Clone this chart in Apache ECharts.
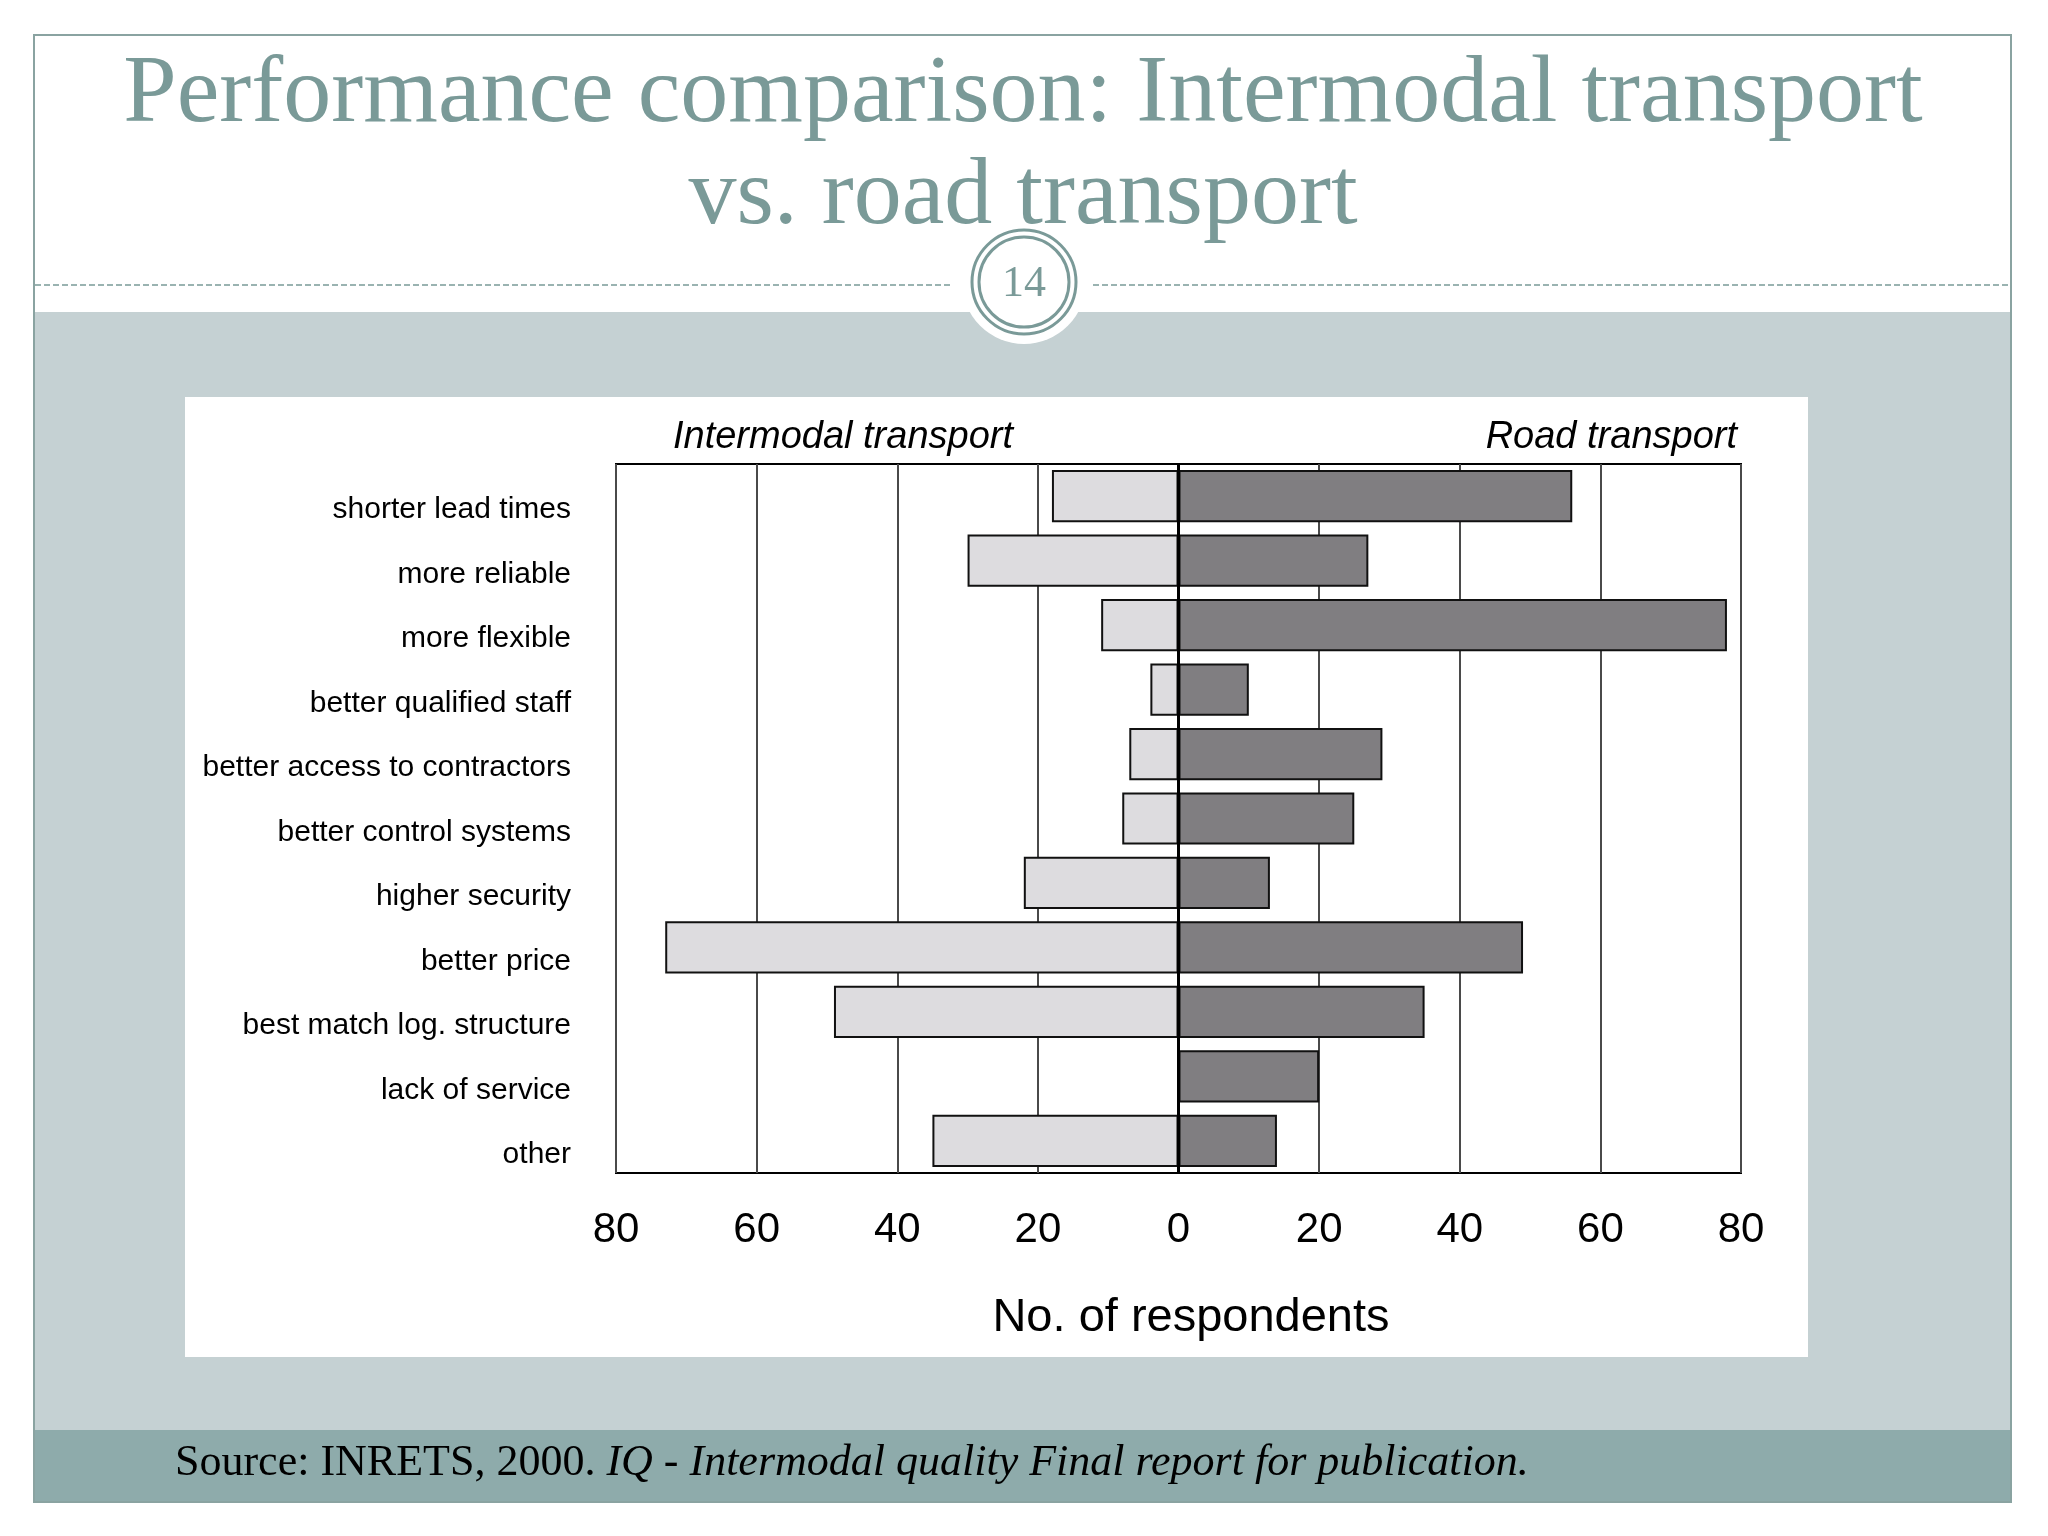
<!DOCTYPE html>
<html>
<head>
<meta charset="utf-8">
<script src="https://cdn.jsdelivr.net/npm/echarts@6/dist/echarts.min.js"></script>
<style>
html,body{margin:0;padding:0;background:#fff;}
#chart{width:2048px;height:1536px;}
</style>
</head>
<body>
<div id="chart"></div>
<script>
var categories = ['shorter lead times','more reliable','more flexible','better qualified staff','better access to contractors','better control systems','higher security','better price','best match log. structure','lack of service','other'];
var intermodal = [18,30,11,4,7,8,22,73,49,0,35];
var road = [56,27,78,10,29,25,13,49,35,20,14];
var tickValues = [-80,-60,-40,-20,0,20,40,60,80];

var sans = "'Liberation Sans', Arial, sans-serif";
var serif = "'Liberation Serif', 'Times New Roman', serif";
var teal = '#7a9a98';

var chart = echarts.init(document.getElementById('chart'));
chart.setOption({
  animation: false,
  backgroundColor: '#ffffff',
  grid: {left: 616, top: 464, width: 1125, height: 709, show: true, borderColor: '#000', borderWidth: 2, backgroundColor: 'transparent', containLabel: false},
  xAxis: {
    type: 'value', min: -80, max: 80, interval: 20,
    axisLine: {show: false}, axisTick: {show: false},
    splitLine: {show: true, lineStyle: {color: '#4a4a4a', width: 2}},
    axisLabel: {formatter: function(v){ return String(Math.abs(v)); }, fontSize: 42, color: '#000', fontFamily: sans, margin: 36},
    name: 'No. of respondents', nameLocation: 'middle', nameGap: 122,
    nameTextStyle: {fontSize: 47, color: '#000', fontFamily: sans, padding: [0,0,0,25]}
  },
  yAxis: {
    type: 'category', data: categories, inverse: true,
    axisLine: {show: false, onZero: false}, axisTick: {show: false},
    axisLabel: {fontSize: 30, color: '#000', fontFamily: sans, margin: 45, verticalAlign: 'top', lineHeight: 28}
  },
  series: [
    {name: 'Intermodal transport', type: 'bar', barGap: '-100%', barCategoryGap: '19%',
     data: intermodal.map(function(v){ return -v; }),
     itemStyle: {color: '#dddcdf', borderColor: '#111', borderWidth: 2}},
    {name: 'Road transport', type: 'bar', barGap: '-100%', barCategoryGap: '19%',
     data: road,
     itemStyle: {color: '#807e81', borderColor: '#111', borderWidth: 2},
     markLine: {silent: true, symbol: 'none', label: {show: false}, lineStyle: {color: '#000', width: 3, type: 'solid'}, data: [{xAxis: 0}]}}
  ],
  graphic: [
    {type: 'rect', z: -10, shape: {x: 34, y: 35, width: 1977, height: 1467}, style: {fill: '#ffffff', stroke: '#8aa3a1', lineWidth: 2}},
    {type: 'rect', z: -9, shape: {x: 35, y: 312, width: 1975, height: 1118}, style: {fill: '#c5d1d3'}},
    {type: 'rect', z: -9, shape: {x: 35, y: 1430, width: 1975, height: 71}, style: {fill: '#8eabab'}},
    {type: 'rect', z: -8, shape: {x: 185, y: 397, width: 1623, height: 960}, style: {fill: '#ffffff'}},
    {type: 'line', z: -8, shape: {x1: 35, y1: 285, x2: 953, y2: 285}, style: {stroke: teal, lineWidth: 1.5, lineDash: [6, 3]}},
    {type: 'line', z: -8, shape: {x1: 1093, y1: 285, x2: 2010, y2: 285}, style: {stroke: teal, lineWidth: 1.5, lineDash: [6, 3]}},
    {type: 'circle', z: -7, shape: {cx: 1024, cy: 282, r: 62}, style: {fill: '#ffffff'}},
    {type: 'circle', z: -6, shape: {cx: 1024, cy: 282, r: 52}, style: {fill: 'none', stroke: teal, lineWidth: 3}},
    {type: 'circle', z: -6, shape: {cx: 1024, cy: 282, r: 45}, style: {fill: 'none', stroke: teal, lineWidth: 3}},
    {type: 'text', z: 5, style: {text: '14', x: 1024, y: 284, textAlign: 'center', textVerticalAlign: 'middle', font: '44px ' + serif, fill: teal}},
    {type: 'text', z: 5, style: {text: 'Performance comparison: Intermodal transport', x: 1023, y: 96, textAlign: 'center', textVerticalAlign: 'middle', font: '96px ' + serif, fill: teal}},
    {type: 'text', z: 5, style: {text: 'vs. road transport', x: 1023, y: 198, textAlign: 'center', textVerticalAlign: 'middle', font: '96px ' + serif, fill: teal}},
    {type: 'text', z: 5, style: {text: 'Intermodal transport', x: 843, y: 437, textAlign: 'center', textVerticalAlign: 'middle', font: 'italic 38px ' + sans, fill: '#000'}},
    {type: 'text', z: 5, style: {text: 'Road transport', x: 1737, y: 437, textAlign: 'right', textVerticalAlign: 'middle', font: 'italic 38px ' + sans, fill: '#000'}},
    {type: 'text', z: 5, style: {
      x: 175, y: 1463, textVerticalAlign: 'middle',
      text: '{n|Source: INRETS, 2000. }{i|IQ - Intermodal quality Final report for publication.}',
      rich: {n: {font: '44px ' + serif, fill: '#000'}, i: {font: 'italic 44px ' + serif, fill: '#000'}}
    }}
  ]
});
</script>
</body>
</html>
